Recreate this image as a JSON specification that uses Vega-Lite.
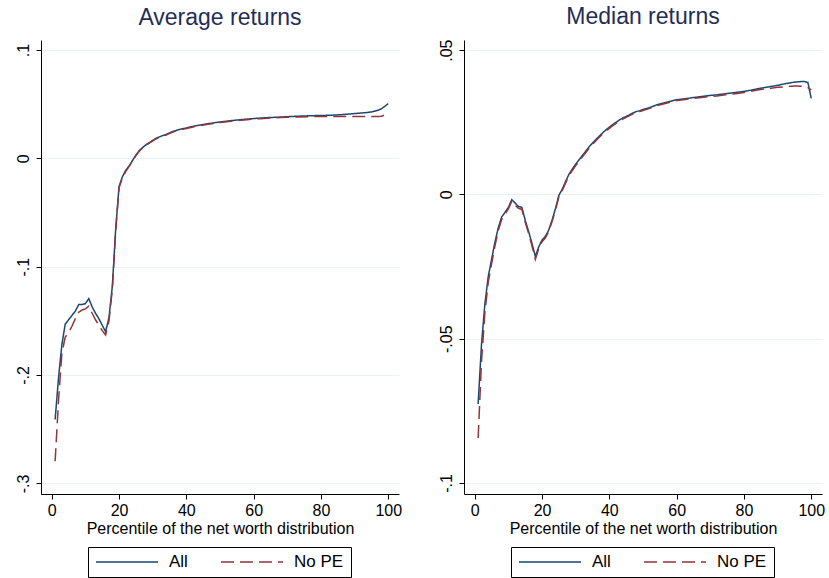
{
  "$schema": "https://vega.github.io/schema/vega-lite/v6.json",
  "background": "white",
  "padding": {"left": 15, "top": 5, "right": 5, "bottom": 0},
  "bounds": "flush",
  "spacing": 65,
  "config": {
    "font": "Liberation Sans",
    "view": {"stroke": null},
    "axis": {
      "domainColor": "black", "domainWidth": 1, "tickColor": "black", "tickSize": 5,
      "labelFontSize": 16, "labelColor": "black", "titleFontSize": 16, "titleFontWeight": "normal",
      "titleColor": "black", "gridColor": "#eaf2f3", "gridWidth": 1
    },
    "axisX": {"grid": false, "labelPadding": 3, "titlePadding": 2},
    "axisY": {"labelAngle": -90, "labelAlign": "center", "labelBaseline": "alphabetic", "labelPadding": 8},
    "title": {"fontSize": 23, "fontWeight": "normal", "color": "#1f2e57", "anchor": "middle", "baseline": "alphabetic", "offset": 10},
    "legend": {
      "direction": "horizontal", "strokeColor": "black", "strokeWidth": 1,
      "padding": 7, "symbolType": "stroke", "symbolSize": 3844, "symbolStrokeWidth": 1.5,
      "labelFontSize": 17, "labelColor": "black", "labelOffset": 10, "columnPadding": 32,
      "clipHeight": 16, "title": null
    }
  },
  "datasets": {
    "avg": [
      {"p":1,"All":-0.241,"No PE":-0.2795},{"p":2,"All":-0.203,"No PE":-0.224},{"p":3,"All":-0.172,"No PE":-0.180},
      {"p":4,"All":-0.153,"No PE":-0.165},{"p":5,"All":-0.149,"No PE":-0.161},{"p":6,"All":-0.145,"No PE":-0.155},
      {"p":7,"All":-0.141,"No PE":-0.148},{"p":8,"All":-0.135,"No PE":-0.142},{"p":9,"All":-0.135,"No PE":-0.140},
      {"p":10,"All":-0.134,"No PE":-0.139},{"p":11,"All":-0.1295,"No PE":-0.1365},{"p":12,"All":-0.137,"No PE":-0.143},
      {"p":13,"All":-0.143,"No PE":-0.149},{"p":14,"All":-0.148,"No PE":-0.154},{"p":15,"All":-0.154,"No PE":-0.159},
      {"p":16,"All":-0.160,"No PE":-0.163},{"p":17,"All":-0.147,"No PE":-0.150},{"p":18,"All":-0.118,"No PE":-0.121},
      {"p":19,"All":-0.065,"No PE":-0.067},{"p":20,"All":-0.026,"No PE":-0.027},{"p":21,"All":-0.017,"No PE":-0.018},
      {"p":22,"All":-0.011,"No PE":-0.012},{"p":23,"All":-0.007,"No PE":-0.0075},{"p":24,"All":-0.002,"No PE":-0.0025},
      {"p":25,"All":0.003,"No PE":0.0025},{"p":26,"All":0.007,"No PE":0.0065},{"p":27,"All":0.010,"No PE":0.0095},
      {"p":28,"All":0.0125,"No PE":0.012},{"p":29,"All":0.0145,"No PE":0.014},{"p":30,"All":0.0165,"No PE":0.016},
      {"p":31,"All":0.0185,"No PE":0.018},{"p":32,"All":0.0198,"No PE":0.0193},{"p":33,"All":0.021,"No PE":0.0205},
      {"p":34,"All":0.022,"No PE":0.0215},{"p":35,"All":0.0235,"No PE":0.023},{"p":36,"All":0.0248,"No PE":0.0243},
      {"p":37,"All":0.0258,"No PE":0.0253},{"p":38,"All":0.0267,"No PE":0.0262},{"p":39,"All":0.0274,"No PE":0.0269},
      {"p":40,"All":0.028,"No PE":0.0276},{"p":42,"All":0.0295,"No PE":0.029},{"p":44,"All":0.0307,"No PE":0.0302},
      {"p":46,"All":0.0317,"No PE":0.0312},{"p":48,"All":0.0327,"No PE":0.0322},{"p":50,"All":0.0335,"No PE":0.033},
      {"p":52,"All":0.0343,"No PE":0.0338},{"p":54,"All":0.035,"No PE":0.0345},{"p":56,"All":0.0356,"No PE":0.0351},
      {"p":58,"All":0.0362,"No PE":0.0357},{"p":60,"All":0.0367,"No PE":0.0362},{"p":62,"All":0.0371,"No PE":0.0366},
      {"p":64,"All":0.0375,"No PE":0.037},{"p":66,"All":0.0378,"No PE":0.0373},{"p":68,"All":0.0381,"No PE":0.0376},
      {"p":70,"All":0.0384,"No PE":0.0378},{"p":72,"All":0.0387,"No PE":0.038},{"p":74,"All":0.039,"No PE":0.0382},
      {"p":76,"All":0.0392,"No PE":0.0384},{"p":78,"All":0.0394,"No PE":0.0385},{"p":80,"All":0.0395,"No PE":0.0386},
      {"p":82,"All":0.0397,"No PE":0.0386},{"p":84,"All":0.0399,"No PE":0.0386},{"p":86,"All":0.0403,"No PE":0.0386},
      {"p":88,"All":0.0408,"No PE":0.0386},{"p":90,"All":0.0413,"No PE":0.0386},{"p":92,"All":0.0418,"No PE":0.0386},
      {"p":94,"All":0.0424,"No PE":0.0387},{"p":95,"All":0.0428,"No PE":0.0387},{"p":96,"All":0.0435,"No PE":0.0387},
      {"p":97,"All":0.0443,"No PE":0.0387},{"p":98,"All":0.0458,"No PE":0.0388},{"p":99,"All":0.048,"No PE":0.040},
      {"p":100,"All":0.0505,"No PE":0.043}
    ],
    "med": [
      {"p":1,"All":-0.0726,"No PE":-0.0844},{"p":2,"All":-0.052,"No PE":-0.058},{"p":3,"All":-0.038,"No PE":-0.041},
      {"p":4,"All":-0.0285,"No PE":-0.0305},{"p":5,"All":-0.0225,"No PE":-0.024},{"p":6,"All":-0.0165,"No PE":-0.0178},
      {"p":7,"All":-0.0115,"No PE":-0.0125},{"p":8,"All":-0.0078,"No PE":-0.0086},{"p":9,"All":-0.0062,"No PE":-0.0068},
      {"p":10,"All":-0.0045,"No PE":-0.005},{"p":11,"All":-0.0018,"No PE":-0.0024},{"p":12,"All":-0.003,"No PE":-0.0037},
      {"p":13,"All":-0.0042,"No PE":-0.0048},{"p":14,"All":-0.0045,"No PE":-0.0052},{"p":15,"All":-0.009,"No PE":-0.0097},
      {"p":16,"All":-0.0128,"No PE":-0.0135},{"p":17,"All":-0.017,"No PE":-0.0178},{"p":18,"All":-0.0215,"No PE":-0.0225},
      {"p":19,"All":-0.0182,"No PE":-0.0188},{"p":20,"All":-0.0158,"No PE":-0.0164},{"p":21,"All":-0.0145,"No PE":-0.015},
      {"p":22,"All":-0.0123,"No PE":-0.0128},{"p":23,"All":-0.0088,"No PE":-0.0093},{"p":24,"All":-0.0048,"No PE":-0.0053},
      {"p":25,"All":-0.0003,"No PE":-0.0008},{"p":26,"All":0.0018,"No PE":0.0013},{"p":27,"All":0.0045,"No PE":0.004},
      {"p":28,"All":0.007,"No PE":0.0065},{"p":29,"All":0.0088,"No PE":0.0083},{"p":30,"All":0.0105,"No PE":0.01},
      {"p":31,"All":0.012,"No PE":0.0115},{"p":32,"All":0.0135,"No PE":0.013},{"p":33,"All":0.015,"No PE":0.0145},
      {"p":34,"All":0.0165,"No PE":0.016},{"p":35,"All":0.0178,"No PE":0.0173},{"p":36,"All":0.019,"No PE":0.0186},
      {"p":37,"All":0.0202,"No PE":0.0198},{"p":38,"All":0.0213,"No PE":0.0209},{"p":39,"All":0.0224,"No PE":0.022},
      {"p":40,"All":0.0233,"No PE":0.0229},{"p":41,"All":0.0242,"No PE":0.0238},{"p":42,"All":0.025,"No PE":0.0246},
      {"p":43,"All":0.0258,"No PE":0.0254},{"p":44,"All":0.0265,"No PE":0.0261},{"p":45,"All":0.027,"No PE":0.0267},
      {"p":46,"All":0.0276,"No PE":0.0273},{"p":47,"All":0.0282,"No PE":0.0279},{"p":48,"All":0.0287,"No PE":0.0284},
      {"p":49,"All":0.029,"No PE":0.0287},{"p":50,"All":0.0294,"No PE":0.0291},{"p":52,"All":0.0301,"No PE":0.0298},
      {"p":54,"All":0.031,"No PE":0.0307},{"p":56,"All":0.0316,"No PE":0.0313},{"p":58,"All":0.0322,"No PE":0.0319},
      {"p":60,"All":0.0328,"No PE":0.0325},{"p":62,"All":0.0331,"No PE":0.0328},{"p":64,"All":0.0334,"No PE":0.0331},
      {"p":66,"All":0.0337,"No PE":0.0334},{"p":68,"All":0.034,"No PE":0.0337},{"p":70,"All":0.0343,"No PE":0.0339},
      {"p":72,"All":0.0345,"No PE":0.0341},{"p":74,"All":0.0348,"No PE":0.0344},{"p":76,"All":0.0351,"No PE":0.0347},
      {"p":78,"All":0.0354,"No PE":0.035},{"p":80,"All":0.0357,"No PE":0.0353},{"p":82,"All":0.0361,"No PE":0.0357},
      {"p":84,"All":0.0366,"No PE":0.0362},{"p":86,"All":0.037,"No PE":0.0365},{"p":88,"All":0.0374,"No PE":0.0368},
      {"p":90,"All":0.0378,"No PE":0.0371},{"p":92,"All":0.0383,"No PE":0.0373},{"p":94,"All":0.0387,"No PE":0.0375},
      {"p":95,"All":0.0389,"No PE":0.0376},{"p":96,"All":0.039,"No PE":0.0376},{"p":97,"All":0.0391,"No PE":0.0375},
      {"p":98,"All":0.0391,"No PE":0.0373},{"p":99,"All":0.0388,"No PE":0.037},{"p":100,"All":0.0333,"No PE":0.0362}
    ]
  },
  "hconcat": [
    {
      "title": "Average returns",
      "width": 358, "height": 454,
      "data": {"name": "avg"},
      "transform": [{"fold": ["All", "No PE"], "as": ["series", "value"]}],
      "mark": {"type": "line", "strokeWidth": 1.5, "clip": true},
      "encoding": {
        "x": {"field": "p", "type": "quantitative", "scale": {"domain": [-3.2, 103.2], "nice": false, "zero": false},
              "axis": {"values": [0, 20, 40, 60, 80, 100], "title": "Percentile of the net worth distribution"}},
        "y": {"field": "value", "type": "quantitative", "scale": {"domain": [-0.3098, 0.1092], "nice": false, "zero": false},
              "axis": {"values": [-0.3, -0.2, -0.1, 0, 0.1], "title": null, "labelExpr": "replace(toString(datum.value), '0.', '.')"}},
        "color": {"field": "series", "type": "nominal", "scale": {"domain": ["All", "No PE"], "range": ["#1a476f", "#90353b"]},
                  "legend": {"orient": "none", "legendX": 47, "legendY": 507}},
        "strokeDash": {"field": "series", "type": "nominal", "scale": {"domain": ["All", "No PE"], "range": [[1, 0], [13, 6]]},
                  "legend": {"orient": "none", "legendX": 47, "legendY": 507}}
      }
    },
    {
      "title": "Median returns",
      "width": 358, "height": 454,
      "data": {"name": "med"},
      "transform": [{"fold": ["All", "No PE"], "as": ["series", "value"]}],
      "mark": {"type": "line", "strokeWidth": 1.5, "clip": true},
      "encoding": {
        "x": {"field": "p", "type": "quantitative", "scale": {"domain": [-3.2, 103.2], "nice": false, "zero": false},
              "axis": {"values": [0, 20, 40, 60, 80, 100], "title": "Percentile of the net worth distribution"}},
        "y": {"field": "value", "type": "quantitative", "scale": {"domain": [-0.1038, 0.0535], "nice": false, "zero": false},
              "axis": {"values": [-0.1, -0.05, 0, 0.05], "title": null, "labelExpr": "replace(toString(datum.value), '0.', '.')"}},
        "color": {"field": "series", "type": "nominal", "scale": {"domain": ["All", "No PE"], "range": ["#1a476f", "#90353b"]},
                  "legend": {"orient": "none", "legendX": 47, "legendY": 507}},
        "strokeDash": {"field": "series", "type": "nominal", "scale": {"domain": ["All", "No PE"], "range": [[1, 0], [13, 6]]},
                  "legend": {"orient": "none", "legendX": 47, "legendY": 507}}
      }
    }
  ],
  "resolve": {
    "scale": {"x": "independent", "y": "independent", "color": "independent", "strokeDash": "independent"},
    "legend": {"color": "independent", "strokeDash": "independent"}
  }
}
